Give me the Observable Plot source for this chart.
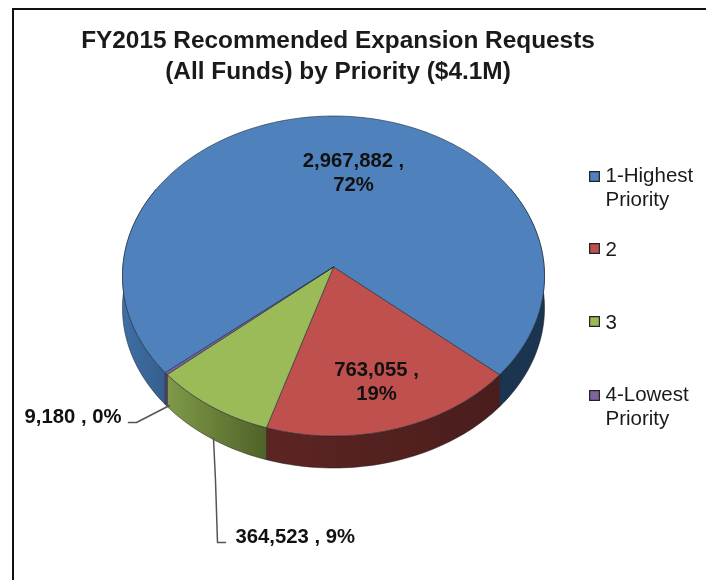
<!DOCTYPE html>
<html><head><meta charset="utf-8">
<script src="https://cdn.jsdelivr.net/npm/d3@7"></script>
<script src="https://cdn.jsdelivr.net/npm/@observablehq/plot@0.6"></script>
<style>
html,body{margin:0;padding:0;background:#fff;overflow:hidden;}
#page{position:relative;width:706px;height:580px;overflow:hidden;font-family:"Liberation Sans",Arial,sans-serif;filter:blur(0.35px);}
#frame{position:absolute;left:12px;top:8px;width:800px;height:800px;border:2px solid #111;box-sizing:border-box;pointer-events:none;}
#title{height:88px;box-sizing:border-box;padding-top:24px;width:676px;text-align:center;font-weight:bold;font-size:24.4px;line-height:31px;color:#1a1a1a;white-space:nowrap;}
svg{display:block;}
</style></head>
<body><div id="page"><div id="frame"></div><div id="title"></div></div>
<script>
const titleLines = ["FY2015 Recommended Expansion Requests", "(All Funds) by Priority ($4.1M)"];
const categories = ["1-Highest\nPriority", "2", "3", "4-Lowest\nPriority"];
const values = [2967882, 763055, 364523, 9180];
const percents = [72, 19, 9, 0];
const topColors = ["#4f81bd", "#c0504d", "#9bbb59", "#8064a2"];
const legendY = [187, 248, 321, 406];

// pie layout on the page
const W = 706, H = 580, titleH = 88;
const cx = 333, cy = 266.5, R = 210.7, tilt = 159.5, persp = 0.05625, depth = 32;
const firstSliceAngle = 230.3;

const rad = Math.PI / 180;
function project(a, drop = 0) {            // a: degrees clockwise from 12 o'clock
  const u = Math.sin(a * rad), v = -Math.cos(a * rad), s = 1 / (1 - persp * v);
  return {x: cx + R * u * s, y: cy + tilt * v * s + drop};
}
function arc(a0, a1, drop = 0) {
  const n = Math.max(2, Math.ceil(Math.abs(a1 - a0) / 1.5) + 1);
  return d3.range(n).map(i => project(a0 + (a1 - a0) * i / (n - 1), drop));
}
const slices = d3.pie().sort(null)
  .startAngle(firstSliceAngle * rad)
  .endAngle((firstSliceAngle + 360) * rad)(values)
  .map((d, i) => ({i, a0: d.startAngle / rad, a1: d.endAngle / rad}));

const topFace = s => {
  const ring = [{x: cx, y: cy}, ...arc(s.a0, s.a1)];
  return [...ring, ring[0]];
};
const wallFace = (a0, a1) => {
  const ring = [...arc(a0, a1), ...arc(a1, a0, depth)];
  return [...ring, ring[0]];
};

// front walls: slices are cut at the back of the pie
const blue = slices[0];
const walls = [
  {pts: wallFace(blue.a0, 300), fill: "url(#wallBlueLeft)"},
  {pts: wallFace(420, blue.a1), fill: "#1b3450"},
  {pts: wallFace(slices[1].a0, slices[1].a1), fill: "url(#wallRed)"},
  {pts: wallFace(slices[2].a0, slices[2].a1), fill: "url(#wallGreen)"},
  {pts: wallFace(slices[3].a0, slices[3].a1), fill: "#5a4478"}
];

const labels = [
  {x: 353, y: 171, text: `${d3.format(",")(values[0])} ,\n${percents[0]}%`, anchor: "middle"},
  {x: 376, y: 380, text: `${d3.format(",")(values[1])} ,\n${percents[1]}%`, anchor: "middle"},
  {x: 121, y: 416, text: `${d3.format(",")(values[3])} , ${percents[3]}%`, anchor: "end"},
  {x: 235, y: 536, text: `${d3.format(",")(values[2])} , ${percents[2]}%`, anchor: "start"}
];
const leaders = [
  [{x: 169, y: 405}, {x: 136, y: 422}, {x: 128, y: 422}],
  [{x: 213, y: 438}, {x: 215, y: 480}, {x: 217, y: 542}, {x: 225, y: 542}]
];
const legend = categories.map((name, i) => ({name, color: topColors[i], y: legendY[i]}));

function gradient(id, stops) {
  const g = d3.create("svg:linearGradient").attr("id", id).attr("x1", 0).attr("x2", 1).attr("y1", 0).attr("y2", 0);
  stops.forEach(([o, c]) => g.append("stop").attr("offset", o).attr("stop-color", c));
  return g.node();
}
const defs = () => {
  const d = d3.create("svg:defs");
  d.append(() => gradient("wallBlueLeft", [[0, "#3f6fa6"], [1, "#355e8e"]]));
  d.append(() => gradient("wallRed", [[0, "#5c2523"], [1, "#4a1d1c"]]));
  d.append(() => gradient("wallGreen", [[0, "#7f9a48"], [1, "#4f6228"]]));
  return d.node();
};

const face = (pts, fill, stroke, sw) => Plot.line(pts, {
  x: "x", y: "y", fill, stroke, strokeWidth: sw, curve: "linear", strokeLinejoin: "round"
});

document.getElementById("title").innerHTML = titleLines.join("<br>");

const chart = Plot.plot({
  width: W, height: H - titleH,
  marginTop: 0, marginRight: 0, marginBottom: 0, marginLeft: 0,
  x: {domain: [0, W], range: [0, W], axis: null},
  y: {domain: [titleH, H], range: [0, H - titleH], axis: null},
  style: {background: "transparent", fontFamily: '"Liberation Sans", Arial, sans-serif'},
  marks: [
    defs,
    ...walls.map(w => face(w.pts, w.fill, "#1c1c1c", 0.5)),
    ...slices.map(s => face(topFace(s), topColors[s.i], "#1f2b3a", 0.6)),
    ...leaders.map(l => Plot.line(l, {x: "x", y: "y", stroke: "#555", strokeWidth: 1.5, curve: "linear"})),
    Plot.text(labels.filter(d => d.anchor === "middle"), {x: "x", y: "y", text: "text", textAnchor: "middle", fontSize: 20.3, fontWeight: "bold", fill: "#111", lineHeight: 1.16}),
    Plot.text(labels.filter(d => d.anchor === "end"), {x: "x", y: "y", text: "text", textAnchor: "end", fontSize: 20.3, fontWeight: "bold", fill: "#111"}),
    Plot.text(labels.filter(d => d.anchor === "start"), {x: "x", y: "y", text: "text", textAnchor: "start", fontSize: 20.3, fontWeight: "bold", fill: "#111"}),
    Plot.dot(legend, {x: () => 594, y: d => d.name.includes("\n") ? d.y - 11 : d.y, symbol: "square", r: 5.5, fill: "color", stroke: "#222", strokeWidth: 1.2}),
    Plot.text(legend.map(d => ({...d, y: d.name.includes("\n") ? d.y - 1.5 : d.y})), {x: () => 605, y: "y", text: "name", textAnchor: "start", fontSize: 20.5, fill: "#1a1a1a", lineHeight: 1.17})
  ]
});
document.getElementById("page").appendChild(chart);
</script></body></html>
